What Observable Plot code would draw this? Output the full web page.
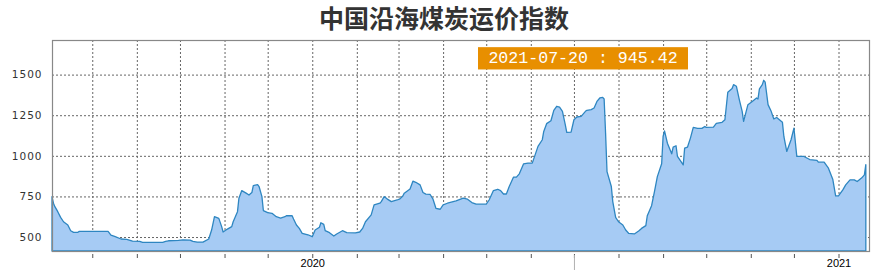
<!DOCTYPE html>
<html>
<head>
<meta charset="utf-8">
<script src="https://cdn.jsdelivr.net/npm/d3@7"></script>
<script src="https://cdn.jsdelivr.net/npm/@observablehq/plot@0.6"></script>
<style>
  html, body { margin: 0; padding: 0; background: #fff; }
  #chart svg { display: block; }
  g[aria-label="y-axis tick label"] text { letter-spacing: 1px; }
</style>
</head>
<body>
<div id="chart"></div>
<script>
const title = "中国沿海煤炭运价指数";
const latestLabel = "2021-07-20 : 945.42";
const yTicks = [500, 750, 1000, 1250, 1500];

const dates = [
  "2019-07-04","2019-07-05","2019-07-06","2019-07-08","2019-07-10","2019-07-12","2019-07-15","2019-07-17","2019-07-19","2019-07-22",
  "2019-07-23","2019-08-12","2019-08-14","2019-08-17","2019-08-21","2019-08-25","2019-08-29","2019-09-03","2019-09-05","2019-09-19",
  "2019-09-21","2019-09-23","2019-09-30","2019-10-03","2019-10-08","2019-10-10","2019-10-13","2019-10-17","2019-10-21","2019-10-23",
  "2019-10-25","2019-10-28","2019-10-30","2019-10-31","2019-11-03","2019-11-06","2019-11-07","2019-11-10","2019-11-11","2019-11-13",
  "2019-11-16","2019-11-18","2019-11-20","2019-11-21","2019-11-24","2019-11-25","2019-11-27","2019-11-28","2019-12-01","2019-12-04",
  "2019-12-07","2019-12-10","2019-12-13","2019-12-14","2019-12-18","2019-12-19","2019-12-21","2019-12-23","2019-12-25","2019-12-29",
  "2020-01-01","2020-01-03","2020-01-06","2020-01-07","2020-01-09","2020-01-10","2020-01-13","2020-01-16","2020-01-18","2020-01-22",
  "2020-01-25","2020-01-31","2020-02-03","2020-02-05","2020-02-07","2020-02-11","2020-02-13","2020-02-17","2020-02-18","2020-02-20",
  "2020-02-22","2020-02-25","2020-02-29","2020-03-02","2020-03-04","2020-03-05","2020-03-09","2020-03-11","2020-03-13","2020-03-16",
  "2020-03-18","2020-03-20","2020-03-23","2020-03-25","2020-03-27","2020-03-30","2020-04-01","2020-04-04","2020-04-10","2020-04-15",
  "2020-04-18","2020-04-21","2020-04-24","2020-05-01","2020-05-03","2020-05-06","2020-05-09","2020-05-11","2020-05-13","2020-05-15",
  "2020-05-17","2020-05-20","2020-05-22","2020-05-24","2020-05-27","2020-05-30","2020-06-02","2020-06-04","2020-06-06","2020-06-09",
  "2020-06-10","2020-06-12","2020-06-15","2020-06-17","2020-06-19","2020-06-21","2020-06-23","2020-06-25","2020-06-26","2020-06-29",
  "2020-07-01","2020-07-03","2020-07-06","2020-07-09","2020-07-10","2020-07-13","2020-07-15","2020-07-17","2020-07-19","2020-07-21",
  "2020-07-22","2020-07-23","2020-07-24","2020-07-27","2020-07-28","2020-07-30","2020-08-01","2020-08-04","2020-08-06","2020-08-08",
  "2020-08-12","2020-08-15","2020-08-17","2020-08-20","2020-08-21","2020-08-24","2020-08-26","2020-08-28","2020-08-31","2020-09-01",
  "2020-09-02","2020-09-04","2020-09-07","2020-09-08","2020-09-10","2020-09-11","2020-09-15","2020-09-16","2020-09-18","2020-09-20",
  "2020-09-22","2020-09-25","2020-09-28","2020-09-30","2020-10-01","2020-10-06","2020-10-08","2020-10-12","2020-10-14","2020-10-16",
  "2020-10-19","2020-10-20","2020-10-22","2020-10-24","2020-10-26","2020-10-27","2020-10-30","2020-11-02","2020-11-05","2020-11-06",
  "2020-11-07","2020-11-09","2020-11-10","2020-11-11","2020-11-13","2020-11-15","2020-11-17","2020-11-19","2020-11-23","2020-11-24",
  "2020-11-26","2020-11-29","2020-12-01","2020-12-03","2020-12-08","2020-12-12","2020-12-17","2020-12-18","2020-12-22","2020-12-25",
  "2020-12-28","2020-12-30","2021-01-01","2021-01-04","2021-01-06","2021-01-09","2021-01-12","2021-01-14","2021-01-17","2021-01-19",
  "2021-01-20"
];
const values = [
  749,708,687,656,621,594,574,539,529,529,
  535,535,512,502,488,486,475,473,467,467,
  473,477,479,483,481,473,469,469,488,543,
  625,615,564,531,549,564,594,656,739,786,
  770,759,774,817,823,811,749,663,650,646,
  625,617,625,631,631,611,574,553,523,514,
  502,543,560,588,578,539,527,506,519,539,
  527,525,531,553,594,636,698,708,718,749,
  735,718,728,735,753,770,796,844,837,821,
  774,764,762,733,677,671,698,708,722,739,
  733,712,702,702,728,786,794,786,765,765,
  811,869,869,889,951,955,955,1006,1058,1099,
  1150,1198,1216,1280,1305,1300,1274,1191,1144,1146,
  1222,1239,1243,1274,1280,1284,1294,1335,1356,1360,
  1350,1141,903,811,718,621,594,574,543,523,
  519,537,553,570,631,693,780,872,951,1119,
  1154,1078,1012,1054,1062,996,944,1047,1054,1109,
  1175,1169,1169,1181,1175,1177,1200,1206,1222,1391,
  1414,1438,1428,1346,1274,1212,1315,1335,1356,1350,
  1412,1438,1465,1453,1315,1278,1227,1236,1206,1119,
  1027,1099,1171,996,996,977,972,961,961,924,
  856,753,753,790,821,852,852,842,863,883,
  945.42
];

const data = dates.map((d, i) => ({date: new Date(d), value: values[i]}));
const xDomain = [new Date("2019-07-04T00:00:00Z"), new Date("2021-01-22T05:00:00Z")];
const yDomain = [414, 1713];
const monthTicks = d3.utcMonths(new Date("2019-08-01T00:00:00Z"), new Date("2021-01-02T00:00:00Z"));
const halfYearTicks = [new Date("2020-07-01T00:00:00Z")];

const chart = Plot.plot({
  width: 880,
  height: 278,
  marginLeft: 52,
  marginRight: 11,
  marginTop: 40,
  marginBottom: 27,
  style: {background: "#fff", overflow: "visible"},
  x: {type: "utc", domain: xDomain, label: null},
  y: {domain: yDomain, label: null},
  marks: [
    Plot.gridY(yTicks, {stroke: "#666", strokeOpacity: 1, strokeDasharray: "2,2"}),
    Plot.gridX(monthTicks, {stroke: "#666", strokeOpacity: 1, strokeDasharray: "2,2"}),
    Plot.areaY(data, {x: "date", y1: yDomain[0], y2: "value", fill: "#a6cbf4", stroke: "#2e86c1", strokeWidth: 1.3}),
    Plot.frame({stroke: "#888", strokeWidth: 1.2}),
    Plot.axisY(yTicks, {
      tickSize: 0, tickPadding: 10, fontSize: 10.5, fontFamily: "DejaVu Sans", fill: "#333",
      label: null, tickFormat: d => String(d)
    }),
    Plot.axisX(monthTicks, {
      tickSize: 4, tickPadding: 1, dy: 3, stroke: "#555",
      fontSize: 11, fontFamily: "Liberation Sans", fill: "#000", label: null,
      tickFormat: d => d.getUTCMonth() === 0 ? String(d.getUTCFullYear()) : ""
    }),
    Plot.axisX(halfYearTicks, {tickSize: 15, dy: 4, stroke: "#b0b0b0", label: null, tickFormat: () => ""}),
    Plot.text([title], {
      frameAnchor: "top", dx: -17, dy: -21, lineAnchor: "middle",
      fontSize: 25, fontWeight: "bold", fontFamily: "Noto Sans CJK SC", fill: "#333"
    }),
    Plot.text([latestLabel], {
      frameAnchor: "top", dx: 122, dy: 17, lineAnchor: "middle",
      fontSize: 16.6, fontFamily: "Liberation Mono", fill: "#fff"
    })
  ]
});

document.getElementById("chart").append(chart);

// orange background box behind the latest-value label
const svgNS = "http://www.w3.org/2000/svg";
for (const t of chart.querySelectorAll("text")) {
  if (t.textContent === latestLabel) {
    const b = t.getBBox();
    const r = document.createElementNS(svgNS, "rect");
    const w = 210, h = 22.3;
    r.setAttribute("x", b.x + b.width / 2 - w / 2);
    r.setAttribute("y", b.y + b.height / 2 - h / 2);
    r.setAttribute("width", w);
    r.setAttribute("height", h);
    r.setAttribute("fill", "#e88f00");
    if (t.getAttribute("transform")) r.setAttribute("transform", t.getAttribute("transform"));
    t.parentNode.insertBefore(r, t);
  }
}
</script>
</body>
</html>
